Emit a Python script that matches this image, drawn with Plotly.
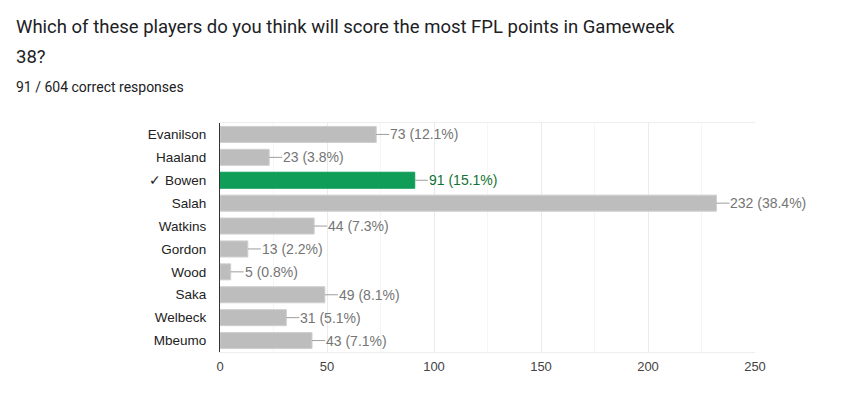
import plotly.graph_objects as go

players = ["Evanilson", "Haaland", "✓ Bowen", "Salah", "Watkins", "Gordon", "Wood", "Saka", "Welbeck", "Mbeumo"]
votes = [73, 23, 91, 232, 44, 13, 5, 49, 31, 43]
total = 604
correct = "✓ Bowen"
x_ticks = [0, 50, 100, 150, 200, 250]

GREY = "#bdbdbd"
GREEN = "#0f9d58"
CHART_FONT = "Arial, 'Liberation Sans', sans-serif"
HEAD_FONT = "Roboto, Arial, sans-serif"
colors = [GREEN if p == correct else GREY for p in players]
line_colors = ["#0f9d58" if p == correct else "#cfcfcf" for p in players]

fig = go.Figure()
fig.add_trace(go.Bar(
    x=votes, y=players, orientation="h",
    marker=dict(color=colors, line=dict(color=line_colors, width=1)),
    hoverinfo="skip",
))

annotations = []
for p, v in zip(players, votes):
    pct = v / total * 100
    annotations.append(dict(
        x=v, y=p, xref="x", yref="y",
        text=f"{v} ({pct:.1f}%)",
        showarrow=True, arrowhead=0, arrowwidth=1, arrowcolor="#9e9e9e",
        ax=13, ay=0, xanchor="left", yanchor="middle",
        borderpad=0,
        font=dict(family=CHART_FONT, size=14,
                  color="#137333" if p == correct else "#757575"),
    ))

# page offset (body margin) of 8px
OFF = 8
header = [
    (14, 27, "Which of these players do you think will score the most FPL points in Gameweek", 18.5),
    (14, 57, "38?", 18.5),
    (14, 87, "91 / 604 correct responses", 14),
]

W, H = 844, 398
ml, mr, mt, mb = 220 - OFF, 89 + OFF, 123 - OFF, 46 + OFF
pw, ph = W - ml - mr, H - mt - mb
for px, py, txt, sz in header:
    annotations.append(dict(
        x=(px - OFF - ml) / pw, y=(H - mb - (py - OFF)) / ph,
        xref="paper", yref="paper", text=txt,
        showarrow=False, xanchor="left", yanchor="middle",
        font=dict(family=HEAD_FONT, size=sz, color="#202124"),
    ))

fig.update_layout(
    width=W, height=H,
    margin=dict(l=ml, r=mr, t=mt, b=mb, pad=0),
    paper_bgcolor="white", plot_bgcolor="white",
    showlegend=False, bargap=0.3,
    font=dict(family=CHART_FONT),
    annotations=annotations,
    xaxis=dict(
        range=[0, 250], tickvals=x_ticks, ticktext=[str(t) for t in x_ticks],
        showgrid=True, gridcolor="#ebebeb", gridwidth=1,
        minor=dict(dtick=25, showgrid=True, gridcolor="#f5f5f5"),
        zeroline=False, showline=True, linecolor="#eeeeee", linewidth=1, mirror=True,
        ticks="", ticklabelstandoff=2,
        tickfont=dict(family=CHART_FONT, size=13, color="#444444"),
        fixedrange=True,
    ),
    yaxis=dict(
        autorange="reversed", showgrid=False, zeroline=False,
        showline=True, linecolor="#333333", linewidth=1,
        ticks="", ticklabelstandoff=10,
        tickfont=dict(family=CHART_FONT, size=13.5, color="#222222"),
        fixedrange=True,
    ),
)

fig.write_html("out.html")
